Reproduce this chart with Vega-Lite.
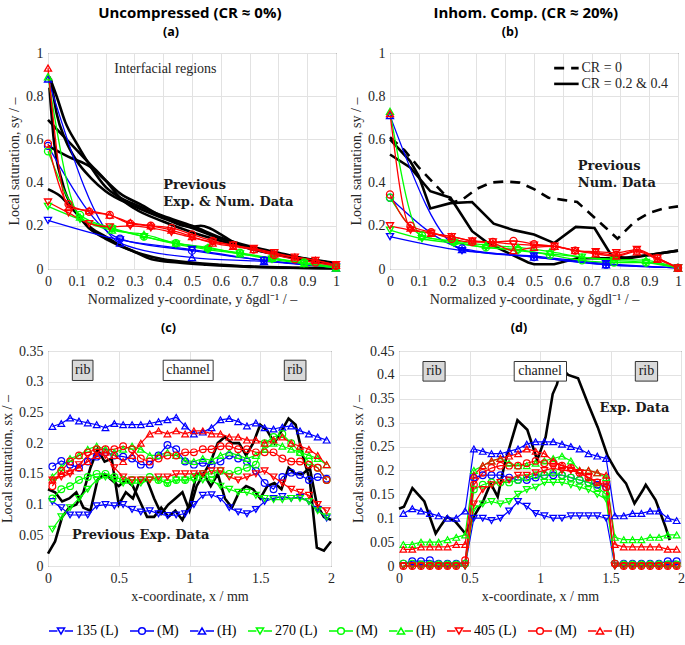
{
"$schema":"https://vega.github.io/schema/vega-lite/v6.json",
"padding":{"left":0,"top":6,"right":0,"bottom":2},
"background":"white",
"spacing":14,
"config":{
 "font":"Liberation Serif",
 "view":{"stroke":"#262626","strokeWidth":1},
 "axis":{"labelFont":"Liberation Serif","labelFontSize":14,"labelColor":"#262626","titleFont":"Liberation Serif","titleFontSize":14,"titleFontWeight":"normal","titleColor":"#262626","grid":true,"gridColor":"#e2e2e2","domain":false,"ticks":false,"labelPadding":5,"titlePadding":4,"labelFlush":false,"labelOverlap":false},
 "title":{"font":"Open Sans","fontWeight":"bold","color":"#000000","anchor":"middle"},
 "legend":{"labelFont":"Liberation Serif","labelFontSize":14,"labelColor":"#000000","symbolSize":576,"symbolStrokeWidth":1.5,"columnPadding":8,"labelOffset":2,"offset":14,"padding":0}
},
"datasets":{
 "a_sim":[
  {"x":0,"L135":0.225,"M135":0.57,"H135":0.88},
  {"x":0.25,"L135":0.135,"M135":0.14,"H135":0.12},
  {"x":0.5,"L135":0.09,"M135":0.085,"H135":0.053},
  {"x":0.75,"L135":0.04,"M135":0.04,"H135":0.035},
  {"x":1,"L135":0.01,"M135":0.01,"H135":0.005},
  {"x":0,"L270":0.29,"M270":0.545,"H270":0.89},
  {"x":0.1111,"L270":0.23,"M270":0.25,"H270":0.24},
  {"x":0.2222,"L270":0.185,"M270":0.19,"H270":0.18},
  {"x":0.3333,"L270":0.15,"M270":0.15,"H270":0.16},
  {"x":0.4444,"L270":0.115,"M270":0.12,"H270":0.12},
  {"x":0.5556,"L270":0.09,"M270":0.095,"H270":0.1},
  {"x":0.6667,"L270":0.07,"M270":0.075,"H270":0.07},
  {"x":0.7778,"L270":0.045,"M270":0.05,"H270":0.05},
  {"x":0.8889,"L270":0.025,"M270":0.03,"H270":0.025},
  {"x":1,"L270":0.005,"M270":0.01,"H270":0.005},
  {"x":0,"L405":0.31,"M405":0.58,"H405":0.93},
  {"x":0.0714,"L405":0.26,"M405":0.3,"H405":0.285},
  {"x":0.1429,"L405":0.21,"M405":0.265,"H405":0.27},
  {"x":0.2143,"L405":0.195,"M405":0.25,"H405":0.25},
  {"x":0.2857,"L405":0.2,"M405":0.21,"H405":0.215},
  {"x":0.3571,"L405":0.19,"M405":0.2,"H405":0.2},
  {"x":0.4286,"L405":0.17,"M405":0.19,"H405":0.18},
  {"x":0.5,"L405":0.145,"M405":0.16,"H405":0.15},
  {"x":0.5714,"L405":0.125,"M405":0.13,"H405":0.12},
  {"x":0.6429,"L405":0.11,"M405":0.11,"H405":0.105},
  {"x":0.7143,"L405":0.095,"M405":0.09,"H405":0.09},
  {"x":0.7857,"L405":0.075,"M405":0.065,"H405":0.07},
  {"x":0.8571,"L405":0.055,"M405":0.045,"H405":0.055},
  {"x":0.9286,"L405":0.04,"M405":0.03,"H405":0.04},
  {"x":1,"L405":0.02,"M405":0.015,"H405":0.017}
 ],
 "a_prev":[
  {"c":1,"x":0.005,"s":0.89},{"c":1,"x":0.03,"s":0.8},{"c":1,"x":0.06,"s":0.68},{"c":1,"x":0.1,"s":0.58},{"c":1,"x":0.15,"s":0.47},{"c":1,"x":0.2,"s":0.38},{"c":1,"x":0.25,"s":0.33},{"c":1,"x":0.3,"s":0.3},{"c":1,"x":0.4,"s":0.245},{"c":1,"x":0.5,"s":0.2},{"c":1,"x":0.6,"s":0.145},{"c":1,"x":0.7,"s":0.105},{"c":1,"x":0.8,"s":0.075},{"c":1,"x":0.9,"s":0.047},{"c":1,"x":1,"s":0.028},
  {"c":2,"x":0.01,"s":0.88},{"c":2,"x":0.03,"s":0.72},{"c":2,"x":0.06,"s":0.6},{"c":2,"x":0.1,"s":0.5},{"c":2,"x":0.15,"s":0.42},{"c":2,"x":0.2,"s":0.36},{"c":2,"x":0.3,"s":0.29},{"c":2,"x":0.4,"s":0.235},{"c":2,"x":0.5,"s":0.19},{"c":2,"x":0.6,"s":0.14},{"c":2,"x":0.7,"s":0.1},{"c":2,"x":0.8,"s":0.07},{"c":2,"x":0.9,"s":0.045},{"c":2,"x":1,"s":0.025},
  {"c":3,"x":0,"s":0.69},{"c":3,"x":0.05,"s":0.62},{"c":3,"x":0.1,"s":0.55},{"c":3,"x":0.15,"s":0.48},{"c":3,"x":0.2,"s":0.41},{"c":3,"x":0.25,"s":0.33},{"c":3,"x":0.3,"s":0.28},{"c":3,"x":0.4,"s":0.22},{"c":3,"x":0.5,"s":0.17},{"c":3,"x":0.6,"s":0.13},{"c":3,"x":0.7,"s":0.095},{"c":3,"x":0.8,"s":0.065},{"c":3,"x":0.9,"s":0.04},{"c":3,"x":1,"s":0.02},
  {"c":4,"x":0,"s":0.57},{"c":4,"x":0.07,"s":0.52},{"c":4,"x":0.15,"s":0.47},{"c":4,"x":0.2,"s":0.41},{"c":4,"x":0.25,"s":0.35},{"c":4,"x":0.32,"s":0.3},{"c":4,"x":0.4,"s":0.24},{"c":4,"x":0.47,"s":0.2},{"c":4,"x":0.5,"s":0.195},{"c":4,"x":0.53,"s":0.2},{"c":4,"x":0.56,"s":0.19},{"c":4,"x":0.6,"s":0.16},{"c":4,"x":0.65,"s":0.12},{"c":4,"x":0.7,"s":0.095},{"c":4,"x":0.8,"s":0.07},{"c":4,"x":0.9,"s":0.045},{"c":4,"x":1,"s":0.025},
  {"c":5,"x":0,"s":0.37},{"c":5,"x":0.04,"s":0.34},{"c":5,"x":0.09,"s":0.27},{"c":5,"x":0.15,"s":0.18},{"c":5,"x":0.2,"s":0.14},{"c":5,"x":0.3,"s":0.08},{"c":5,"x":0.4,"s":0.045},{"c":5,"x":0.5,"s":0.03},{"c":5,"x":0.6,"s":0.02},{"c":5,"x":0.7,"s":0.012},{"c":5,"x":0.85,"s":0.006},{"c":5,"x":1,"s":0.003},
  {"c":6,"x":0.005,"s":0.84},{"c":6,"x":0.02,"s":0.6},{"c":6,"x":0.05,"s":0.4},{"c":6,"x":0.1,"s":0.26},{"c":6,"x":0.15,"s":0.19},{"c":6,"x":0.2,"s":0.15},{"c":6,"x":0.25,"s":0.11},{"c":6,"x":0.3,"s":0.08},{"c":6,"x":0.36,"s":0.045},{"c":6,"x":0.45,"s":0.03},{"c":6,"x":0.55,"s":0.02},{"c":6,"x":0.7,"s":0.01},{"c":6,"x":1,"s":0.004}
 ],
 "b_sim":[
  {"x":0,"L135":0.15,"M135":0.33,"H135":0.71},
  {"x":0.25,"L135":0.085,"M135":0.095,"H135":0.09},
  {"x":0.5,"L135":0.06,"M135":0.055,"H135":0.055},
  {"x":0.75,"L135":0.025,"M135":0.02,"H135":0.02},
  {"x":1,"L135":0.005,"M135":0.005,"H135":0.005},
  {"x":0,"L270":0.18,"M270":0.33,"H270":0.73},
  {"x":0.1111,"L270":0.14,"M270":0.155,"H270":0.15},
  {"x":0.2222,"L270":0.12,"M270":0.125,"H270":0.13},
  {"x":0.3333,"L270":0.1,"M270":0.1,"H270":0.11},
  {"x":0.4444,"L270":0.085,"M270":0.09,"H270":0.1},
  {"x":0.5556,"L270":0.07,"M270":0.065,"H270":0.08},
  {"x":0.6667,"L270":0.055,"M270":0.04,"H270":0.055},
  {"x":0.7778,"L270":0.04,"M270":0.03,"H270":0.045},
  {"x":0.8889,"L270":0.03,"M270":0.03,"H270":0.04},
  {"x":1,"L270":0.005,"M270":0.005,"H270":0.005},
  {"x":0,"L405":0.2,"M405":0.345,"H405":0.72},
  {"x":0.0714,"L405":0.18,"M405":0.2,"H405":0.19},
  {"x":0.1429,"L405":0.165,"M405":0.17,"H405":0.165},
  {"x":0.2143,"L405":0.15,"M405":0.14,"H405":0.15},
  {"x":0.2857,"L405":0.13,"M405":0.125,"H405":0.13},
  {"x":0.3571,"L405":0.125,"M405":0.125,"H405":0.12},
  {"x":0.4286,"L405":0.115,"M405":0.13,"H405":0.085},
  {"x":0.5,"L405":0.11,"M405":0.115,"H405":0.1},
  {"x":0.5714,"L405":0.105,"M405":0.105,"H405":0.105},
  {"x":0.6429,"L405":0.085,"M405":0.085,"H405":0.085},
  {"x":0.7143,"L405":0.08,"M405":0.075,"H405":0.07},
  {"x":0.7857,"L405":0.075,"M405":0.065,"H405":0.06},
  {"x":0.8571,"L405":0.09,"M405":0.085,"H405":0.08},
  {"x":0.9286,"L405":0.05,"M405":0.05,"H405":0.045},
  {"x":1,"L405":0.005,"M405":0.005,"H405":0.005}
 ],
 "b_prev":[
  {"c":"CR0","x":0,"s":0.61},{"c":"CR0","x":0.05,"s":0.55},{"c":"CR0","x":0.1,"s":0.47},{"c":"CR0","x":0.15,"s":0.4},{"c":"CR0","x":0.2,"s":0.33},{"c":"CR0","x":0.22,"s":0.31},{"c":"CR0","x":0.25,"s":0.32},{"c":"CR0","x":0.3,"s":0.37},{"c":"CR0","x":0.35,"s":0.4},{"c":"CR0","x":0.4,"s":0.405},{"c":"CR0","x":0.45,"s":0.4},{"c":"CR0","x":0.5,"s":0.37},{"c":"CR0","x":0.55,"s":0.33},{"c":"CR0","x":0.6,"s":0.32},{"c":"CR0","x":0.65,"s":0.31},{"c":"CR0","x":0.7,"s":0.25},{"c":"CR0","x":0.75,"s":0.19},{"c":"CR0","x":0.79,"s":0.14},{"c":"CR0","x":0.85,"s":0.22},{"c":"CR0","x":0.9,"s":0.26},{"c":"CR0","x":0.95,"s":0.28},{"c":"CR0","x":1,"s":0.29},
  {"c":"S1","x":0,"s":0.53},{"c":"S1","x":0.07,"s":0.47},{"c":"S1","x":0.14,"s":0.36},{"c":"S1","x":0.21,"s":0.33},{"c":"S1","x":0.285,"s":0.175},{"c":"S1","x":0.34,"s":0.12},{"c":"S1","x":0.41,"s":0.075},{"c":"S1","x":0.48,"s":0.03},{"c":"S1","x":0.5,"s":0.022},{"c":"S1","x":0.57,"s":0.022},{"c":"S1","x":0.65,"s":0.05},{"c":"S1","x":0.8,"s":0.05},{"c":"S1","x":0.9,"s":0.065},{"c":"S1","x":1,"s":0.085},
  {"c":"S2","x":0,"s":0.6},{"c":"S2","x":0.07,"s":0.5},{"c":"S2","x":0.1,"s":0.43},{"c":"S2","x":0.14,"s":0.28},{"c":"S2","x":0.21,"s":0.305},{"c":"S2","x":0.285,"s":0.31},{"c":"S2","x":0.36,"s":0.21},{"c":"S2","x":0.43,"s":0.18},{"c":"S2","x":0.5,"s":0.16},{"c":"S2","x":0.57,"s":0.12},{"c":"S2","x":0.645,"s":0.195},{"c":"S2","x":0.71,"s":0.19},{"c":"S2","x":0.77,"s":0.06},{"c":"S2","x":0.83,"s":0.05},{"c":"S2","x":0.9,"s":0.065},{"c":"S2","x":1,"s":0.085}
 ],
 "c_sim":[
  {"x":0.031,"L135":0.105,"M135":0.162,"H135":0.227,"L270":0.06,"M270":0.11,"H270":0.145,"L405":0.14,"M405":0.13,"H405":0.14},
  {"x":0.094,"L135":0.095,"M135":0.171,"H135":0.232,"L270":0.08,"M270":0.125,"H270":0.16,"L405":0.145,"M405":0.155,"H405":0.15},
  {"x":0.156,"L135":0.083,"M135":0.165,"H135":0.241,"L270":0.095,"M270":0.13,"H270":0.175,"L405":0.15,"M405":0.17,"H405":0.155},
  {"x":0.219,"L135":0.083,"M135":0.16,"H135":0.236,"L270":0.11,"M270":0.14,"H270":0.18,"L405":0.165,"M405":0.18,"H405":0.16},
  {"x":0.281,"L135":0.083,"M135":0.17,"H135":0.233,"L270":0.125,"M270":0.145,"H270":0.19,"L405":0.18,"M405":0.185,"H405":0.17},
  {"x":0.344,"L135":0.098,"M135":0.178,"H135":0.23,"L270":0.14,"M270":0.15,"H270":0.195,"L405":0.185,"M405":0.19,"H405":0.18},
  {"x":0.406,"L135":0.1,"M135":0.185,"H135":0.225,"L270":0.145,"M270":0.15,"H270":0.19,"L405":0.18,"M405":0.19,"H405":0.185},
  {"x":0.469,"L135":0.098,"M135":0.18,"H135":0.232,"L270":0.14,"M270":0.145,"H270":0.185,"L405":0.16,"M405":0.19,"H405":0.18},
  {"x":0.531,"L135":0.1,"M135":0.178,"H135":0.23,"L270":0.135,"M270":0.14,"H270":0.19,"L405":0.145,"M405":0.195,"H405":0.17},
  {"x":0.594,"L135":0.092,"M135":0.175,"H135":0.23,"L270":0.135,"M270":0.14,"H270":0.195,"L405":0.14,"M405":0.19,"H405":0.18},
  {"x":0.656,"L135":0.088,"M135":0.165,"H135":0.23,"L270":0.135,"M270":0.14,"H270":0.19,"L405":0.14,"M405":0.175,"H405":0.2},
  {"x":0.719,"L135":0.09,"M135":0.165,"H135":0.232,"L270":0.14,"M270":0.145,"H270":0.18,"L405":0.14,"M405":0.17,"H405":0.215},
  {"x":0.781,"L135":0.085,"M135":0.18,"H135":0.235,"L270":0.14,"M270":0.14,"H270":0.18,"L405":0.145,"M405":0.175,"H405":0.22},
  {"x":0.844,"L135":0.082,"M135":0.197,"H135":0.238,"L270":0.135,"M270":0.135,"H270":0.185,"L405":0.145,"M405":0.18,"H405":0.215},
  {"x":0.906,"L135":0.083,"M135":0.19,"H135":0.242,"L270":0.14,"M270":0.14,"H270":0.18,"L405":0.15,"M405":0.18,"H405":0.22},
  {"x":0.969,"L135":0.085,"M135":0.17,"H135":0.228,"L270":0.14,"M270":0.14,"H270":0.172,"L405":0.15,"M405":0.185,"H405":0.215},
  {"x":1.031,"L135":0.1,"M135":0.165,"H135":0.215,"L270":0.14,"M270":0.145,"H270":0.17,"L405":0.15,"M405":0.185,"H405":0.22},
  {"x":1.094,"L135":0.115,"M135":0.168,"H135":0.218,"L270":0.14,"M270":0.15,"H270":0.175,"L405":0.15,"M405":0.19,"H405":0.22},
  {"x":1.156,"L135":0.116,"M135":0.165,"H135":0.225,"L270":0.14,"M270":0.15,"H270":0.172,"L405":0.155,"M405":0.19,"H405":0.215},
  {"x":1.219,"L135":0.11,"M135":0.17,"H135":0.238,"L270":0.13,"M270":0.155,"H270":0.18,"L405":0.155,"M405":0.195,"H405":0.215},
  {"x":1.281,"L135":0.095,"M135":0.18,"H135":0.24,"L270":0.125,"M270":0.15,"H270":0.185,"L405":0.145,"M405":0.195,"H405":0.21},
  {"x":1.344,"L135":0.088,"M135":0.175,"H135":0.235,"L270":0.12,"M270":0.155,"H270":0.18,"L405":0.14,"M405":0.19,"H405":0.21},
  {"x":1.406,"L135":0.085,"M135":0.17,"H135":0.228,"L270":0.12,"M270":0.16,"H270":0.175,"L405":0.145,"M405":0.19,"H405":0.205},
  {"x":1.469,"L135":0.092,"M135":0.155,"H135":0.233,"L270":0.115,"M270":0.165,"H270":0.18,"L405":0.15,"M405":0.185,"H405":0.205},
  {"x":1.531,"L135":0.105,"M135":0.135,"H135":0.225,"L270":0.11,"M270":0.2,"H270":0.19,"L405":0.155,"M405":0.185,"H405":0.2},
  {"x":1.594,"L135":0.11,"M135":0.125,"H135":0.223,"L270":0.108,"M270":0.21,"H270":0.2,"L405":0.145,"M405":0.185,"H405":0.205},
  {"x":1.656,"L135":0.113,"M135":0.145,"H135":0.226,"L270":0.108,"M270":0.215,"H270":0.195,"L405":0.135,"M405":0.175,"H405":0.21},
  {"x":1.719,"L135":0.11,"M135":0.152,"H135":0.228,"L270":0.11,"M270":0.2,"H270":0.19,"L405":0.125,"M405":0.17,"H405":0.2},
  {"x":1.781,"L135":0.112,"M135":0.148,"H135":0.22,"L270":0.11,"M270":0.185,"H270":0.185,"L405":0.12,"M405":0.17,"H405":0.195},
  {"x":1.844,"L135":0.105,"M135":0.14,"H135":0.215,"L270":0.105,"M270":0.17,"H270":0.18,"L405":0.115,"M405":0.165,"H405":0.19},
  {"x":1.906,"L135":0.092,"M135":0.145,"H135":0.21,"L270":0.09,"M270":0.16,"H270":0.175,"L405":0.1,"M405":0.16,"H405":0.18},
  {"x":1.969,"L135":0.078,"M135":0.142,"H135":0.205,"L270":0.08,"M270":0.14,"H270":0.165,"L405":0.09,"M405":0.14,"H405":0.165}
 ],
 "c_prev":[
  {"c":"A","x":0,"s":0.125},{"c":"A","x":0.05,"s":0.12},{"c":"A","x":0.1,"s":0.105},{"c":"A","x":0.15,"s":0.11},{"c":"A","x":0.2,"s":0.12},{"c":"A","x":0.25,"s":0.095},{"c":"A","x":0.3,"s":0.09},{"c":"A","x":0.35,"s":0.14},{"c":"A","x":0.4,"s":0.15},{"c":"A","x":0.45,"s":0.14},{"c":"A","x":0.5,"s":0.13},{"c":"A","x":0.55,"s":0.14},{"c":"A","x":0.6,"s":0.13},{"c":"A","x":0.65,"s":0.105},{"c":"A","x":0.7,"s":0.08},{"c":"A","x":0.75,"s":0.08},{"c":"A","x":0.8,"s":0.095},{"c":"A","x":0.85,"s":0.08},{"c":"A","x":0.9,"s":0.09},{"c":"A","x":0.95,"s":0.075},{"c":"A","x":1,"s":0.1},{"c":"A","x":1.05,"s":0.15},{"c":"A","x":1.1,"s":0.15},{"c":"A","x":1.15,"s":0.13},{"c":"A","x":1.2,"s":0.15},{"c":"A","x":1.25,"s":0.11},{"c":"A","x":1.3,"s":0.095},{"c":"A","x":1.35,"s":0.12},{"c":"A","x":1.4,"s":0.13},{"c":"A","x":1.45,"s":0.125},{"c":"A","x":1.5,"s":0.11},{"c":"A","x":1.55,"s":0.13},{"c":"A","x":1.6,"s":0.135},{"c":"A","x":1.65,"s":0.125},{"c":"A","x":1.7,"s":0.16},{"c":"A","x":1.75,"s":0.15},{"c":"A","x":1.8,"s":0.15},{"c":"A","x":1.85,"s":0.16},{"c":"A","x":1.9,"s":0.1},{"c":"A","x":1.95,"s":0.08},{"c":"A","x":2,"s":0.075},
  {"c":"B","x":0,"s":0.02},{"c":"B","x":0.05,"s":0.04},{"c":"B","x":0.1,"s":0.08},{"c":"B","x":0.15,"s":0.095},{"c":"B","x":0.2,"s":0.1},{"c":"B","x":0.25,"s":0.12},{"c":"B","x":0.3,"s":0.16},{"c":"B","x":0.35,"s":0.19},{"c":"B","x":0.4,"s":0.17},{"c":"B","x":0.45,"s":0.175},{"c":"B","x":0.5,"s":0.1},{"c":"B","x":0.55,"s":0.12},{"c":"B","x":0.6,"s":0.11},{"c":"B","x":0.65,"s":0.14},{"c":"B","x":0.7,"s":0.14},{"c":"B","x":0.75,"s":0.11},{"c":"B","x":0.8,"s":0.085},{"c":"B","x":0.85,"s":0.1},{"c":"B","x":0.9,"s":0.11},{"c":"B","x":0.95,"s":0.12},{"c":"B","x":1,"s":0.09},{"c":"B","x":1.05,"s":0.13},{"c":"B","x":1.1,"s":0.15},{"c":"B","x":1.15,"s":0.17},{"c":"B","x":1.2,"s":0.2},{"c":"B","x":1.25,"s":0.21},{"c":"B","x":1.3,"s":0.2},{"c":"B","x":1.35,"s":0.2},{"c":"B","x":1.4,"s":0.18},{"c":"B","x":1.45,"s":0.2},{"c":"B","x":1.5,"s":0.23},{"c":"B","x":1.55,"s":0.22},{"c":"B","x":1.6,"s":0.2},{"c":"B","x":1.65,"s":0.22},{"c":"B","x":1.7,"s":0.24},{"c":"B","x":1.75,"s":0.23},{"c":"B","x":1.8,"s":0.18},{"c":"B","x":1.85,"s":0.14},{"c":"B","x":1.9,"s":0.03},{"c":"B","x":1.95,"s":0.025},{"c":"B","x":2,"s":0.04}
 ],
 "d_sim":[
  {"x":0.031,"L135":0,"M135":0.005,"H135":0.11,"L270":0,"M270":0.005,"H270":0.045,"L405":0,"M405":0,"H405":0.035},
  {"x":0.094,"L135":0,"M135":0.01,"H135":0.12,"L270":0,"M270":0.005,"H270":0.045,"L405":0,"M405":0,"H405":0.035},
  {"x":0.156,"L135":0,"M135":0.01,"H135":0.115,"L270":0,"M270":0.003,"H270":0.05,"L405":0,"M405":0,"H405":0.04},
  {"x":0.219,"L135":0,"M135":0.012,"H135":0.11,"L270":0,"M270":0.003,"H270":0.05,"L405":0,"M405":0,"H405":0.04},
  {"x":0.281,"L135":0,"M135":0.005,"H135":0.105,"L270":0,"M270":0.003,"H270":0.05,"L405":0,"M405":0,"H405":0.04},
  {"x":0.344,"L135":0,"M135":0.005,"H135":0.1,"L270":0,"M270":0.003,"H270":0.055,"L405":0,"M405":0,"H405":0.04},
  {"x":0.406,"L135":0,"M135":0.005,"H135":0.1,"L270":0,"M270":0.003,"H270":0.06,"L405":0,"M405":0,"H405":0.045},
  {"x":0.469,"L135":0,"M135":0.005,"H135":0.115,"L270":0,"M270":0.005,"H270":0.065,"L405":0,"M405":0.012,"H405":0.045},
  {"x":0.531,"L135":0.1,"M135":0.185,"H135":0.245,"L270":0.12,"M270":0.16,"H270":0.2,"L405":0.13,"M405":0.17,"H405":0.19},
  {"x":0.594,"L135":0.1,"M135":0.19,"H135":0.24,"L270":0.13,"M270":0.17,"H270":0.21,"L405":0.16,"M405":0.195,"H405":0.21},
  {"x":0.656,"L135":0.095,"M135":0.19,"H135":0.235,"L270":0.135,"M270":0.175,"H270":0.22,"L405":0.17,"M405":0.205,"H405":0.22},
  {"x":0.719,"L135":0.1,"M135":0.19,"H135":0.235,"L270":0.13,"M270":0.175,"H270":0.225,"L405":0.175,"M405":0.21,"H405":0.225},
  {"x":0.781,"L135":0.115,"M135":0.185,"H135":0.24,"L270":0.135,"M270":0.175,"H270":0.215,"L405":0.18,"M405":0.21,"H405":0.23},
  {"x":0.844,"L135":0.135,"M135":0.18,"H135":0.245,"L270":0.15,"M270":0.18,"H270":0.21,"L405":0.19,"M405":0.21,"H405":0.235},
  {"x":0.906,"L135":0.125,"M135":0.18,"H135":0.255,"L270":0.16,"M270":0.185,"H270":0.21,"L405":0.19,"M405":0.215,"H405":0.245},
  {"x":0.969,"L135":0.11,"M135":0.185,"H135":0.26,"L270":0.165,"M270":0.19,"H270":0.215,"L405":0.195,"M405":0.22,"H405":0.24},
  {"x":1.031,"L135":0.105,"M135":0.19,"H135":0.26,"L270":0.175,"M270":0.19,"H270":0.22,"L405":0.2,"M405":0.215,"H405":0.235},
  {"x":1.094,"L135":0.1,"M135":0.19,"H135":0.26,"L270":0.175,"M270":0.195,"H270":0.225,"L405":0.205,"M405":0.215,"H405":0.22},
  {"x":1.156,"L135":0.1,"M135":0.19,"H135":0.255,"L270":0.175,"M270":0.19,"H270":0.23,"L405":0.2,"M405":0.21,"H405":0.21},
  {"x":1.219,"L135":0.105,"M135":0.185,"H135":0.25,"L270":0.17,"M270":0.185,"H270":0.22,"L405":0.2,"M405":0.205,"H405":0.205},
  {"x":1.281,"L135":0.105,"M135":0.18,"H135":0.245,"L270":0.165,"M270":0.18,"H270":0.2,"L405":0.195,"M405":0.195,"H405":0.2},
  {"x":1.344,"L135":0.105,"M135":0.175,"H135":0.235,"L270":0.16,"M270":0.175,"H270":0.2,"L405":0.185,"M405":0.185,"H405":0.2},
  {"x":1.406,"L135":0.105,"M135":0.17,"H135":0.23,"L270":0.15,"M270":0.165,"H270":0.195,"L405":0.175,"M405":0.175,"H405":0.195},
  {"x":1.469,"L135":0.1,"M135":0.165,"H135":0.225,"L270":0.14,"M270":0.15,"H270":0.185,"L405":0.17,"M405":0.165,"H405":0.19},
  {"x":1.531,"L135":0,"M135":0.005,"H135":0.105,"L270":0,"M270":0.005,"H270":0.06,"L405":0,"M405":0.005,"H405":0.045},
  {"x":1.594,"L135":0,"M135":0.005,"H135":0.105,"L270":0,"M270":0.003,"H270":0.055,"L405":0,"M405":0,"H405":0.04},
  {"x":1.656,"L135":0,"M135":0.005,"H135":0.11,"L270":0,"M270":0.003,"H270":0.055,"L405":0,"M405":0,"H405":0.04},
  {"x":1.719,"L135":0,"M135":0.005,"H135":0.11,"L270":0,"M270":0.003,"H270":0.055,"L405":0,"M405":0,"H405":0.04},
  {"x":1.781,"L135":0,"M135":0.005,"H135":0.115,"L270":0,"M270":0.003,"H270":0.06,"L405":0,"M405":0,"H405":0.04},
  {"x":1.844,"L135":0,"M135":0.005,"H135":0.115,"L270":0,"M270":0.003,"H270":0.06,"L405":0,"M405":0,"H405":0.04},
  {"x":1.906,"L135":0,"M135":0.01,"H135":0.1,"L270":0,"M270":0.003,"H270":0.065,"L405":0,"M405":0,"H405":0.035},
  {"x":1.969,"L135":0,"M135":0.01,"H135":0.095,"L270":0,"M270":0.003,"H270":0.065,"L405":0,"M405":0,"H405":0.035}
 ],
 "d_prev":[
  {"x":0,"s":0.12},{"x":0.035,"s":0.124},{"x":0.095,"s":0.163},{"x":0.18,"s":0.135},{"x":0.26,"s":0.068},{"x":0.3,"s":0.086},{"x":0.34,"s":0.103},{"x":0.4,"s":0.093},{"x":0.47,"s":0.068},{"x":0.53,"s":0.103},{"x":0.6,"s":0.138},{"x":0.65,"s":0.173},{"x":0.7,"s":0.145},{"x":0.75,"s":0.215},{"x":0.84,"s":0.305},{"x":0.91,"s":0.285},{"x":0.98,"s":0.222},{"x":1.04,"s":0.27},{"x":1.09,"s":0.36},{"x":1.12,"s":0.38},{"x":1.15,"s":0.415},{"x":1.2,"s":0.4},{"x":1.27,"s":0.393},{"x":1.34,"s":0.34},{"x":1.41,"s":0.29},{"x":1.48,"s":0.23},{"x":1.55,"s":0.194},{"x":1.61,"s":0.173},{"x":1.67,"s":0.131},{"x":1.73,"s":0.159},{"x":1.75,"s":0.17},{"x":1.82,"s":0.138},{"x":1.89,"s":0.082},{"x":1.92,"s":0.054}
 ]
},
"vconcat":[
 {"spacing":6,"hconcat":[
  {"title":{"text":"Uncompressed (CR ≈ 0%)","fontSize":15,"anchor":"middle","dx":15,"offset":4},
   "vconcat":[{
   "width":288,"height":216,
   "title":{"text":"(a)","fontSize":12.5,"anchor":"middle","dx":-21,"offset":8},
   "encoding":{
    "x":{"field":"x","type":"quantitative","scale":{"domain":[0,1],"nice":false,"zero":false},"axis":{"values":[0,0.1,0.2,0.3,0.4,0.5,0.6,0.7,0.8,0.9,1],"format":"~g","title":"Normalized y-coordinate, y δgdl⁻¹ / –"}},
    "y":{"field":"s","type":"quantitative","scale":{"domain":[0,1],"nice":false},"axis":{"values":[0,0.2,0.4,0.6,0.8,1],"format":"~g","title":"Local saturation, sy / –"}}
   },
   "layer":[
    {"data":{"values":[{"x":0.0667}]},"mark":{"type":"rule","color":"#a00000","strokeDash":[6,4],"strokeWidth":1.8},"encoding":{"y":{"datum":0},"y2":{"datum":1}}},
    {"data":{"values":[{"x":0.1}]},"mark":{"type":"rule","color":"#007000","strokeDash":[6,4],"strokeWidth":1.8},"encoding":{"y":{"datum":0},"y2":{"datum":1}}},
    {"data":{"values":[{"x":0.2}]},"mark":{"type":"rule","color":"#0000a8","strokeDash":[6,4],"strokeWidth":1.8},"encoding":{"y":{"datum":0},"y2":{"datum":1}}},
    {"data":{"name":"a_prev"},"mark":{"type":"line","color":"#000000","strokeWidth":2.6,"interpolate":"monotone"},"encoding":{"detail":{"field":"c","type":"nominal"}}},
    {"data":{"name":"a_sim"},"transform":[{"fold":["L135","M135","H135","L270","M270","H270","L405","M405","H405"],"as":["series","s"]},{"filter":"isValid(datum.s)"}],
     "mark":{"type":"line","strokeWidth":1.3,"interpolate":"monotone"},
     "encoding":{"color":{"field":"series","type":"nominal","scale":{"domain":["L135","M135","H135","L270","M270","H270","L405","M405","H405"],"range":["#0000ff","#0000ff","#0000ff","#00ff00","#00ff00","#00ff00","#ff0000","#ff0000","#ff0000"]},"legend":{"title":null,"orient":"bottom","direction":"horizontal","labelExpr":"slice(datum.label,0,1)=='L' ? slice(datum.label,1)+' (L)' : '('+slice(datum.label,0,1)+')'","encode":{"symbols":{"update":{"shape":{"signal":"slice(datum.value,0,1)=='L' ? 'M-1,0H-0.3M0.3,0H1M-0.3,-0.26L0.3,-0.26L0,0.26Z' : slice(datum.value,0,1)=='M' ? 'M-1,0H-0.28M0.28,0H1M0.28,0A0.28,0.28 0 1,1 -0.28,0A0.28,0.28 0 1,1 0.28,0Z' : 'M-1,0H-0.3M0.3,0H1M-0.3,0.26L0.3,0.26L0,-0.26Z'"},"fill":{"value":"transparent"},"strokeWidth":{"value":1.5},"opacity":{"value":1}}}}}}}},
    {"data":{"name":"a_sim"},"transform":[{"fold":["L135","M135","H135","L270","M270","H270","L405","M405","H405"],"as":["series","s"]},{"filter":"isValid(datum.s)"}],
     "mark":{"type":"point","filled":false,"opacity":1,"size":50,"strokeWidth":1.3},
     "encoding":{"color":{"field":"series","type":"nominal","scale":{"domain":["L135","M135","H135","L270","M270","H270","L405","M405","H405"],"range":["#0000ff","#0000ff","#0000ff","#00ff00","#00ff00","#00ff00","#ff0000","#ff0000","#ff0000"]},"legend":{"title":null,"orient":"bottom","direction":"horizontal","labelExpr":"slice(datum.label,0,1)=='L' ? slice(datum.label,1)+' (L)' : '('+slice(datum.label,0,1)+')'","encode":{"symbols":{"update":{"shape":{"signal":"slice(datum.value,0,1)=='L' ? 'M-1,0H-0.3M0.3,0H1M-0.3,-0.26L0.3,-0.26L0,0.26Z' : slice(datum.value,0,1)=='M' ? 'M-1,0H-0.28M0.28,0H1M0.28,0A0.28,0.28 0 1,1 -0.28,0A0.28,0.28 0 1,1 0.28,0Z' : 'M-1,0H-0.3M0.3,0H1M-0.3,0.26L0.3,0.26L0,-0.26Z'"},"fill":{"value":"transparent"},"strokeWidth":{"value":1.5},"opacity":{"value":1}}}}}},
      "shape":{"field":"series","type":"nominal","scale":{"domain":["H405","M405","L405","H270","M270","L270","H135","M135","L135"],"range":["triangle-up","circle","triangle-down","triangle-up","circle","triangle-down","triangle-up","circle","triangle-down"]},"legend":null}}},
    {"data":{"values":[{"t":"Interfacial regions","x":0.23,"s":0.925}]},"mark":{"type":"text","align":"left","baseline":"middle","font":"Liberation Serif","fontSize":14,"color":"#262626"},"encoding":{"text":{"field":"t"}}},
    {"data":{"values":[{"t":"Previous","x":0.4,"s":0.387},{"t":"Exp. & Num. Data","x":0.4,"s":0.31}]},"mark":{"type":"text","align":"left","baseline":"middle","font":"DejaVu Serif","fontWeight":"bold","fontSize":13,"color":"#1a1a1a"},"encoding":{"text":{"field":"t"}}}
   ]}]},
  {"title":{"text":"Inhom. Comp. (CR ≈ 20%)","fontSize":15,"anchor":"middle","dx":9,"offset":4},
   "vconcat":[{
   "width":288,"height":216,
   "title":{"text":"(b)","fontSize":12.5,"anchor":"middle","dx":-24,"offset":8},
   "encoding":{
    "x":{"field":"x","type":"quantitative","scale":{"domain":[0,1],"nice":false,"zero":false},"axis":{"values":[0,0.1,0.2,0.3,0.4,0.5,0.6,0.7,0.8,0.9,1],"format":"~g","title":"Normalized y-coordinate, y δgdl⁻¹ / –"}},
    "y":{"field":"s","type":"quantitative","scale":{"domain":[0,1],"nice":false},"axis":{"values":[0,0.2,0.4,0.6,0.8,1],"format":"~g","title":"Local saturation, sy / –"}}
   },
   "layer":[
    {"data":{"values":[{"x":0.0667}]},"mark":{"type":"rule","color":"#a00000","strokeDash":[6,4],"strokeWidth":1.8},"encoding":{"y":{"datum":0},"y2":{"datum":1}}},
    {"data":{"values":[{"x":0.1}]},"mark":{"type":"rule","color":"#007000","strokeDash":[6,4],"strokeWidth":1.8},"encoding":{"y":{"datum":0},"y2":{"datum":1}}},
    {"data":{"values":[{"x":0.2}]},"mark":{"type":"rule","color":"#0000a8","strokeDash":[6,4],"strokeWidth":1.8},"encoding":{"y":{"datum":0},"y2":{"datum":1}}},
    {"data":{"name":"b_prev"},"transform":[{"filter":"datum.c=='CR0'"}],"mark":{"type":"line","color":"#000000","strokeWidth":2.6,"strokeDash":[10,7]},"encoding":{}},
    {"data":{"name":"b_prev"},"transform":[{"filter":"datum.c!='CR0'"}],"mark":{"type":"line","color":"#000000","strokeWidth":2.6},"encoding":{"detail":{"field":"c","type":"nominal"}}},
    {"data":{"name":"b_sim"},"transform":[{"fold":["L135","M135","H135","L270","M270","H270","L405","M405","H405"],"as":["series","s"]},{"filter":"isValid(datum.s)"}],
     "mark":{"type":"line","strokeWidth":1.3,"interpolate":"monotone"},
     "encoding":{"color":{"field":"series","type":"nominal","scale":{"domain":["L135","M135","H135","L270","M270","H270","L405","M405","H405"],"range":["#0000ff","#0000ff","#0000ff","#00ff00","#00ff00","#00ff00","#ff0000","#ff0000","#ff0000"]},"legend":{"title":null,"orient":"bottom","direction":"horizontal","labelExpr":"slice(datum.label,0,1)=='L' ? slice(datum.label,1)+' (L)' : '('+slice(datum.label,0,1)+')'","encode":{"symbols":{"update":{"shape":{"signal":"slice(datum.value,0,1)=='L' ? 'M-1,0H-0.3M0.3,0H1M-0.3,-0.26L0.3,-0.26L0,0.26Z' : slice(datum.value,0,1)=='M' ? 'M-1,0H-0.28M0.28,0H1M0.28,0A0.28,0.28 0 1,1 -0.28,0A0.28,0.28 0 1,1 0.28,0Z' : 'M-1,0H-0.3M0.3,0H1M-0.3,0.26L0.3,0.26L0,-0.26Z'"},"fill":{"value":"transparent"},"strokeWidth":{"value":1.5},"opacity":{"value":1}}}}}}}},
    {"data":{"name":"b_sim"},"transform":[{"fold":["L135","M135","H135","L270","M270","H270","L405","M405","H405"],"as":["series","s"]},{"filter":"isValid(datum.s)"}],
     "mark":{"type":"point","filled":false,"opacity":1,"size":50,"strokeWidth":1.3},
     "encoding":{"color":{"field":"series","type":"nominal","scale":{"domain":["L135","M135","H135","L270","M270","H270","L405","M405","H405"],"range":["#0000ff","#0000ff","#0000ff","#00ff00","#00ff00","#00ff00","#ff0000","#ff0000","#ff0000"]},"legend":{"title":null,"orient":"bottom","direction":"horizontal","labelExpr":"slice(datum.label,0,1)=='L' ? slice(datum.label,1)+' (L)' : '('+slice(datum.label,0,1)+')'","encode":{"symbols":{"update":{"shape":{"signal":"slice(datum.value,0,1)=='L' ? 'M-1,0H-0.3M0.3,0H1M-0.3,-0.26L0.3,-0.26L0,0.26Z' : slice(datum.value,0,1)=='M' ? 'M-1,0H-0.28M0.28,0H1M0.28,0A0.28,0.28 0 1,1 -0.28,0A0.28,0.28 0 1,1 0.28,0Z' : 'M-1,0H-0.3M0.3,0H1M-0.3,0.26L0.3,0.26L0,-0.26Z'"},"fill":{"value":"transparent"},"strokeWidth":{"value":1.5},"opacity":{"value":1}}}}}},
      "shape":{"field":"series","type":"nominal","scale":{"domain":["H405","M405","L405","H270","M270","L270","H135","M135","L135"],"range":["triangle-up","circle","triangle-down","triangle-up","circle","triangle-down","triangle-up","circle","triangle-down"]},"legend":null}}},
    {"data":{"values":[{"x":0.57,"x2":0.655,"s":0.93}]},"mark":{"type":"rule","color":"#000000","strokeWidth":2.6,"strokeDash":[10,7]},"encoding":{"x2":{"field":"x2"}}},
    {"data":{"values":[{"x":0.57,"x2":0.655,"s":0.857}]},"mark":{"type":"rule","color":"#000000","strokeWidth":2.6},"encoding":{"x2":{"field":"x2"}}},
    {"data":{"values":[{"t":"CR = 0","x":0.665,"s":0.93},{"t":"CR = 0.2 & 0.4","x":0.665,"s":0.857}]},"mark":{"type":"text","align":"left","baseline":"middle","font":"Liberation Serif","fontSize":14,"color":"#262626"},"encoding":{"text":{"field":"t"}}},
    {"data":{"values":[{"t":"Previous","x":0.652,"s":0.478},{"t":"Num. Data","x":0.652,"s":0.4}]},"mark":{"type":"text","align":"left","baseline":"middle","font":"DejaVu Serif","fontWeight":"bold","fontSize":13,"color":"#1a1a1a"},"encoding":{"text":{"field":"t"}}}
   ]}]}
 ]},
 {"spacing":14,"hconcat":[
  {
   "width":283,"height":215,
   "title":{"text":"(c)","fontSize":12.5,"anchor":"middle","dx":-21,"offset":10},
   "encoding":{
    "x":{"field":"x","type":"quantitative","scale":{"domain":[0,2],"nice":false,"zero":false},"axis":{"values":[0,0.5,1,1.5,2],"format":"~g","title":"x-coordinate, x / mm"}},
    "y":{"field":"s","type":"quantitative","scale":{"domain":[0,0.35],"nice":false},"axis":{"values":[0,0.05,0.1,0.15,0.2,0.25,0.3,0.35],"format":"~g","title":"Local saturation, sx / –"}}
   },
   "layer":[
    {"data":{"values":[{"x":0.5},{"x":1.5}]},"mark":{"type":"rule","color":"#000000","strokeDash":[6,4],"strokeWidth":1.8},"encoding":{"y":{"datum":0},"y2":{"datum":0.35}}},
    {"data":{"name":"c_prev"},"mark":{"type":"line","color":"#000000","strokeWidth":2.6},"encoding":{"detail":{"field":"c","type":"nominal"}}},
    {"data":{"name":"c_sim"},"transform":[{"fold":["L135","M135","H135","L270","M270","H270","L405","M405","H405"],"as":["series","s"]},{"filter":"isValid(datum.s)"}],
     "mark":{"type":"line","strokeWidth":1.2},
     "encoding":{"color":{"field":"series","type":"nominal","scale":{"domain":["L135","M135","H135","L270","M270","H270","L405","M405","H405"],"range":["#0000ff","#0000ff","#0000ff","#00ff00","#00ff00","#00ff00","#ff0000","#ff0000","#ff0000"]},"legend":{"title":null,"orient":"bottom","direction":"horizontal","labelExpr":"slice(datum.label,0,1)=='L' ? slice(datum.label,1)+' (L)' : '('+slice(datum.label,0,1)+')'","encode":{"symbols":{"update":{"shape":{"signal":"slice(datum.value,0,1)=='L' ? 'M-1,0H-0.3M0.3,0H1M-0.3,-0.26L0.3,-0.26L0,0.26Z' : slice(datum.value,0,1)=='M' ? 'M-1,0H-0.28M0.28,0H1M0.28,0A0.28,0.28 0 1,1 -0.28,0A0.28,0.28 0 1,1 0.28,0Z' : 'M-1,0H-0.3M0.3,0H1M-0.3,0.26L0.3,0.26L0,-0.26Z'"},"fill":{"value":"transparent"},"strokeWidth":{"value":1.5},"opacity":{"value":1}}}}}}}},
    {"data":{"name":"c_sim"},"transform":[{"fold":["L135","M135","H135","L270","M270","H270","L405","M405","H405"],"as":["series","s"]},{"filter":"isValid(datum.s)"}],
     "mark":{"type":"point","filled":false,"opacity":1,"size":45,"strokeWidth":1.2},
     "encoding":{"color":{"field":"series","type":"nominal","scale":{"domain":["L135","M135","H135","L270","M270","H270","L405","M405","H405"],"range":["#0000ff","#0000ff","#0000ff","#00ff00","#00ff00","#00ff00","#ff0000","#ff0000","#ff0000"]},"legend":{"title":null,"orient":"bottom","direction":"horizontal","labelExpr":"slice(datum.label,0,1)=='L' ? slice(datum.label,1)+' (L)' : '('+slice(datum.label,0,1)+')'","encode":{"symbols":{"update":{"shape":{"signal":"slice(datum.value,0,1)=='L' ? 'M-1,0H-0.3M0.3,0H1M-0.3,-0.26L0.3,-0.26L0,0.26Z' : slice(datum.value,0,1)=='M' ? 'M-1,0H-0.28M0.28,0H1M0.28,0A0.28,0.28 0 1,1 -0.28,0A0.28,0.28 0 1,1 0.28,0Z' : 'M-1,0H-0.3M0.3,0H1M-0.3,0.26L0.3,0.26L0,-0.26Z'"},"fill":{"value":"transparent"},"strokeWidth":{"value":1.5},"opacity":{"value":1}}}}}},
      "shape":{"field":"series","type":"nominal","scale":{"domain":["H405","M405","L405","H270","M270","L270","H135","M135","L135"],"range":["triangle-up","circle","triangle-down","triangle-up","circle","triangle-down","triangle-up","circle","triangle-down"]},"legend":null}}},
    {"data":{"values":[{"t":"rib","x":0.172,"x2":0.318,"s":0.302,"s2":0.335},{"t":"channel","x":0.814,"x2":1.167,"s":0.302,"s2":0.335},{"t":"rib","x":1.67,"x2":1.823,"s":0.302,"s2":0.335}]},"mark":{"type":"rect","stroke":"#333333","strokeWidth":1},"encoding":{"x2":{"field":"x2"},"y2":{"field":"s2"},"color":{"condition":{"test":"datum.t=='rib'","value":"#d9d9d9"},"value":"#ffffff"}}},
    {"data":{"values":[{"t":"rib","x":0.245,"s":0.3185},{"t":"channel","x":0.99,"s":0.3185},{"t":"rib","x":1.746,"s":0.3185}]},"mark":{"type":"text","align":"center","baseline":"middle","font":"Liberation Serif","fontSize":14,"color":"#1a1a1a"},"encoding":{"text":{"field":"t"}}},
    {"data":{"values":[{"t":"Previous Exp. Data","x":0.655,"s":0.05}]},"mark":{"type":"text","align":"center","baseline":"middle","font":"DejaVu Serif","fontWeight":"bold","fontSize":13,"color":"#1a1a1a"},"encoding":{"text":{"field":"t"}}}
   ]},
  {
   "width":282,"height":215,
   "title":{"text":"(d)","fontSize":12.5,"anchor":"middle","dx":-21,"offset":10},
   "encoding":{
    "x":{"field":"x","type":"quantitative","scale":{"domain":[0,2],"nice":false,"zero":false},"axis":{"values":[0,0.5,1,1.5,2],"format":"~g","title":"x-coordinate, x / mm"}},
    "y":{"field":"s","type":"quantitative","scale":{"domain":[0,0.45],"nice":false},"axis":{"values":[0,0.05,0.1,0.15,0.2,0.25,0.3,0.35,0.4,0.45],"format":"~g","title":"Local saturation, sx / –"}}
   },
   "layer":[
    {"data":{"values":[{"x":0.5},{"x":1.5}]},"mark":{"type":"rule","color":"#000000","strokeDash":[6,4],"strokeWidth":1.8},"encoding":{"y":{"datum":0},"y2":{"datum":0.45}}},
    {"data":{"name":"d_prev"},"mark":{"type":"line","color":"#000000","strokeWidth":2.6},"encoding":{}},
    {"data":{"name":"d_sim"},"transform":[{"fold":["L135","M135","H135","L270","M270","H270","L405","M405","H405"],"as":["series","s"]},{"filter":"isValid(datum.s)"}],
     "mark":{"type":"line","strokeWidth":1.2},
     "encoding":{"color":{"field":"series","type":"nominal","scale":{"domain":["L135","M135","H135","L270","M270","H270","L405","M405","H405"],"range":["#0000ff","#0000ff","#0000ff","#00ff00","#00ff00","#00ff00","#ff0000","#ff0000","#ff0000"]},"legend":{"title":null,"orient":"bottom","direction":"horizontal","labelExpr":"slice(datum.label,0,1)=='L' ? slice(datum.label,1)+' (L)' : '('+slice(datum.label,0,1)+')'","encode":{"symbols":{"update":{"shape":{"signal":"slice(datum.value,0,1)=='L' ? 'M-1,0H-0.3M0.3,0H1M-0.3,-0.26L0.3,-0.26L0,0.26Z' : slice(datum.value,0,1)=='M' ? 'M-1,0H-0.28M0.28,0H1M0.28,0A0.28,0.28 0 1,1 -0.28,0A0.28,0.28 0 1,1 0.28,0Z' : 'M-1,0H-0.3M0.3,0H1M-0.3,0.26L0.3,0.26L0,-0.26Z'"},"fill":{"value":"transparent"},"strokeWidth":{"value":1.5},"opacity":{"value":1}}}}}}}},
    {"data":{"name":"d_sim"},"transform":[{"fold":["L135","M135","H135","L270","M270","H270","L405","M405","H405"],"as":["series","s"]},{"filter":"isValid(datum.s)"}],
     "mark":{"type":"point","filled":false,"opacity":1,"size":45,"strokeWidth":1.2},
     "encoding":{"color":{"field":"series","type":"nominal","scale":{"domain":["L135","M135","H135","L270","M270","H270","L405","M405","H405"],"range":["#0000ff","#0000ff","#0000ff","#00ff00","#00ff00","#00ff00","#ff0000","#ff0000","#ff0000"]},"legend":{"title":null,"orient":"bottom","direction":"horizontal","labelExpr":"slice(datum.label,0,1)=='L' ? slice(datum.label,1)+' (L)' : '('+slice(datum.label,0,1)+')'","encode":{"symbols":{"update":{"shape":{"signal":"slice(datum.value,0,1)=='L' ? 'M-1,0H-0.3M0.3,0H1M-0.3,-0.26L0.3,-0.26L0,0.26Z' : slice(datum.value,0,1)=='M' ? 'M-1,0H-0.28M0.28,0H1M0.28,0A0.28,0.28 0 1,1 -0.28,0A0.28,0.28 0 1,1 0.28,0Z' : 'M-1,0H-0.3M0.3,0H1M-0.3,0.26L0.3,0.26L0,-0.26Z'"},"fill":{"value":"transparent"},"strokeWidth":{"value":1.5},"opacity":{"value":1}}}}}},
      "shape":{"field":"series","type":"nominal","scale":{"domain":["H405","M405","L405","H270","M270","L270","H135","M135","L135"],"range":["triangle-up","circle","triangle-down","triangle-up","circle","triangle-down","triangle-up","circle","triangle-down"]},"legend":null}}},
    {"data":{"values":[{"t":"rib","x":0.17,"x2":0.327,"s":0.387,"s2":0.428},{"t":"channel","x":0.817,"x2":1.188,"s":0.387,"s2":0.428},{"t":"rib","x":1.676,"x2":1.834,"s":0.387,"s2":0.428}]},"mark":{"type":"rect","stroke":"#333333","strokeWidth":1},"encoding":{"x2":{"field":"x2"},"y2":{"field":"s2"},"color":{"condition":{"test":"datum.t=='rib'","value":"#d9d9d9"},"value":"#ffffff"}}},
    {"data":{"values":[{"t":"rib","x":0.248,"s":0.4075},{"t":"channel","x":1.0,"s":0.4075},{"t":"rib","x":1.755,"s":0.4075}]},"mark":{"type":"text","align":"center","baseline":"middle","font":"Liberation Serif","fontSize":14,"color":"#1a1a1a"},"encoding":{"text":{"field":"t"}}},
    {"data":{"values":[{"t":"Exp. Data","x":1.67,"s":0.331}]},"mark":{"type":"text","align":"center","baseline":"middle","font":"DejaVu Serif","fontWeight":"bold","fontSize":13,"color":"#1a1a1a"},"encoding":{"text":{"field":"t"}}}
   ]}
 ]}
]
}
